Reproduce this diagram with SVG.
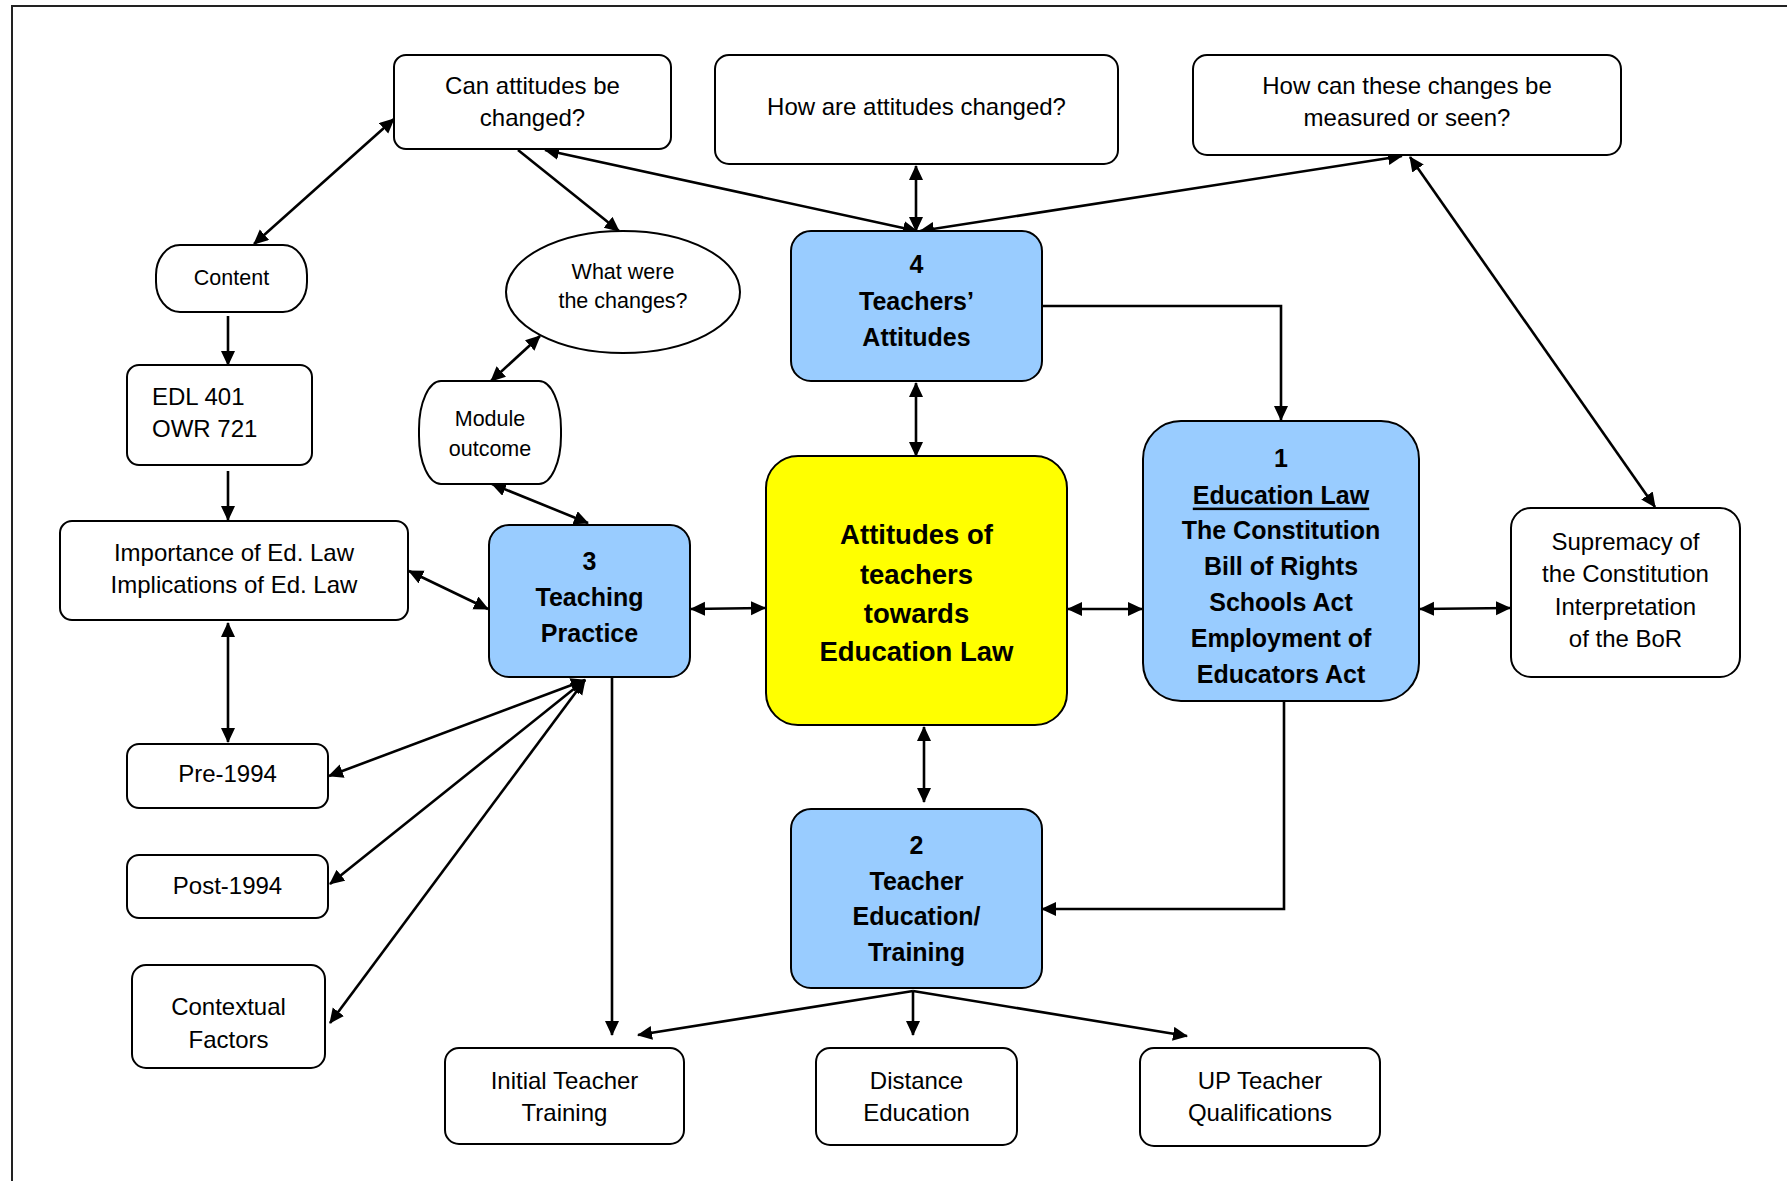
<svg xmlns="http://www.w3.org/2000/svg" width="1787" height="1181" viewBox="0 0 1787 1181">
<style>
.box{fill:#fff;stroke:#000;stroke-width:2}
.blue{fill:#99CCFF;stroke:#000;stroke-width:2}
.yel{fill:#FFFF00;stroke:#000;stroke-width:2}
text{font-family:"Liberation Sans",Arial,sans-serif;fill:#000;dominant-baseline:central;text-anchor:middle}
.t{font-size:24px}
.s{font-size:21.5px}
.b{font-size:25px;font-weight:bold}
.y{font-size:27.5px;font-weight:bold}
.c line,.c path{stroke:#000;stroke-width:2.6;fill:none}
</style>
<defs>
<marker id="ah" markerUnits="userSpaceOnUse" markerWidth="16" markerHeight="15" refX="14" refY="7" orient="auto-start-reverse" viewBox="0 0 16 15">
<path d="M0,0 L15,7 L0,14 z" fill="#000"/>
</marker>
</defs>
<path d="M12,1181 V6 H1787" fill="none" stroke="#222" stroke-width="2"/>

<g class="c">
<line x1="394" y1="119" x2="254" y2="244" marker-start="url(#ah)" marker-end="url(#ah)"/>
<line x1="518" y1="150" x2="619" y2="231" marker-end="url(#ah)"/>
<line x1="545" y1="150" x2="917" y2="231" marker-start="url(#ah)" marker-end="url(#ah)"/>
<line x1="916" y1="166" x2="916" y2="231" marker-start="url(#ah)" marker-end="url(#ah)"/>
<line x1="1402" y1="156" x2="920" y2="231" marker-start="url(#ah)" marker-end="url(#ah)"/>
<line x1="1410" y1="157" x2="1655" y2="507" marker-start="url(#ah)" marker-end="url(#ah)"/>
<path d="M1042,306 H1281 V420" marker-end="url(#ah)"/>
<line x1="916" y1="383" x2="916" y2="456" marker-start="url(#ah)" marker-end="url(#ah)"/>
<line x1="228" y1="316" x2="228" y2="365" marker-end="url(#ah)"/>
<line x1="228" y1="471" x2="228" y2="520" marker-end="url(#ah)"/>
<line x1="540" y1="336" x2="491" y2="381" marker-start="url(#ah)" marker-end="url(#ah)"/>
<line x1="492" y1="484" x2="588" y2="523" marker-start="url(#ah)" marker-end="url(#ah)"/>
<line x1="409" y1="571" x2="488" y2="609" marker-start="url(#ah)" marker-end="url(#ah)"/>
<line x1="228" y1="623" x2="228" y2="742" marker-start="url(#ah)" marker-end="url(#ah)"/>
<line x1="691" y1="609" x2="765" y2="608" marker-start="url(#ah)" marker-end="url(#ah)"/>
<line x1="585" y1="680" x2="329" y2="776" marker-start="url(#ah)" marker-end="url(#ah)"/>
<line x1="585" y1="680" x2="330" y2="884" marker-start="url(#ah)" marker-end="url(#ah)"/>
<line x1="585" y1="680" x2="330" y2="1023" marker-start="url(#ah)" marker-end="url(#ah)"/>
<line x1="612" y1="677" x2="612" y2="1035" marker-end="url(#ah)"/>
<line x1="1068" y1="609" x2="1142" y2="609" marker-start="url(#ah)" marker-end="url(#ah)"/>
<line x1="1420" y1="609" x2="1510" y2="608" marker-start="url(#ah)" marker-end="url(#ah)"/>
<line x1="924" y1="727" x2="924" y2="802" marker-start="url(#ah)" marker-end="url(#ah)"/>
<path d="M1284,701 V909 H1042" marker-end="url(#ah)"/>
<line x1="913" y1="991" x2="638" y2="1035" marker-end="url(#ah)"/>
<line x1="913" y1="991" x2="913" y2="1035" marker-end="url(#ah)"/>
<line x1="913" y1="991" x2="1187" y2="1036" marker-end="url(#ah)"/>
</g>

<g id="can-attitudes">
<rect class="box" x="394" y="55" width="277" height="94" rx="12"/>
<text class="t" x="532.5" y="85.5">Can attitudes be</text>
<text class="t" x="532.5" y="117.4">changed?</text>
</g>
<g id="how-changed">
<rect class="box" x="715" y="55" width="403" height="109" rx="14"/>
<text class="t" x="916.5" y="106">How are attitudes changed?</text>
</g>
<g id="how-measured">
<rect class="box" x="1193" y="55" width="428" height="100" rx="14"/>
<text class="t" x="1407" y="85.5">How can these changes be</text>
<text class="t" x="1407" y="117.4">measured or seen?</text>
</g>
<g id="content">
<rect class="box" x="156" y="245" width="151" height="67" rx="24" ry="30"/>
<text class="s" x="231.5" y="278">Content</text>
</g>
<g id="what-were">
<ellipse class="box" cx="623" cy="292" rx="117" ry="61"/>
<text class="s" x="623" y="272.4">What were</text>
<text class="s" x="623" y="300.9">the changes?</text>
</g>
<g id="edl">
<rect class="box" x="127" y="365" width="185" height="100" rx="12"/>
<text class="t" x="152" y="396.6" style="text-anchor:start">EDL 401</text>
<text class="t" x="152" y="428.5" style="text-anchor:start">OWR 721</text>
</g>
<g id="module">
<rect class="box" x="419" y="381" width="142" height="103" rx="22" ry="48"/>
<text class="s" x="490" y="419.4">Module</text>
<text class="s" x="490" y="449">outcome</text>
</g>
<g id="importance">
<rect class="box" x="60" y="521" width="348" height="99" rx="12"/>
<text class="t" x="234" y="552.8">Importance of Ed. Law</text>
<text class="t" x="234" y="584.7">Implications of Ed. Law</text>
</g>
<g id="teaching-practice">
<rect class="blue" x="489" y="525" width="201" height="152" rx="20"/>
<text class="b" x="589.5" y="560.7">3</text>
<text class="b" x="589.5" y="597.2">Teaching</text>
<text class="b" x="589.5" y="632.5">Practice</text>
</g>
<g id="center">
<rect class="yel" x="766" y="456" width="301" height="269" rx="32"/>
<text class="y" x="916.5" y="534.5">Attitudes of</text>
<text class="y" x="916.5" y="574.4">teachers</text>
<text class="y" x="916.5" y="613.2">towards</text>
<text class="y" x="916.5" y="651.9">Education Law</text>
</g>
<g id="teachers-attitudes">
<rect class="blue" x="791" y="231" width="251" height="150" rx="20"/>
<text class="b" x="916.5" y="264.4">4</text>
<text class="b" x="916.5" y="301">Teachers’</text>
<text class="b" x="916.5" y="337.4">Attitudes</text>
</g>
<g id="education-law">
<rect class="blue" x="1143" y="421" width="276" height="280" rx="38"/>
<text class="b" x="1281" y="458">1</text>
<text class="b" x="1281" y="494.6" text-decoration="underline">Education Law</text>
<text class="b" x="1281" y="530">The Constitution</text>
<text class="b" x="1281" y="566.4">Bill of Rights</text>
<text class="b" x="1281" y="601.8">Schools Act</text>
<text class="b" x="1281" y="638.2">Employment of</text>
<text class="b" x="1281" y="673.6">Educators Act</text>
</g>
<g id="supremacy">
<rect class="box" x="1511" y="508" width="229" height="169" rx="20"/>
<text class="t" x="1625.5" y="541.4">Supremacy of</text>
<text class="t" x="1625.5" y="573.3">the Constitution</text>
<text class="t" x="1625.5" y="606.3">Interpretation</text>
<text class="t" x="1625.5" y="638.2">of the BoR</text>
</g>
<g id="pre-1994">
<rect class="box" x="127" y="744" width="201" height="64" rx="12"/>
<text class="t" x="227.5" y="773.9">Pre-1994</text>
</g>
<g id="post-1994">
<rect class="box" x="127" y="855" width="201" height="63" rx="12"/>
<text class="t" x="227.5" y="885.6">Post-1994</text>
</g>
<g id="contextual">
<rect class="box" x="132" y="965" width="193" height="103" rx="14"/>
<text class="t" x="228.5" y="1006.4">Contextual</text>
<text class="t" x="228.5" y="1039.4">Factors</text>
</g>
<g id="teacher-education">
<rect class="blue" x="791" y="809" width="251" height="179" rx="20"/>
<text class="b" x="916.5" y="844.5">2</text>
<text class="b" x="916.5" y="881">Teacher</text>
<text class="b" x="916.5" y="916.3">Education/</text>
<text class="b" x="916.5" y="951.6">Training</text>
</g>
<g id="initial-teacher-training">
<rect class="box" x="445" y="1048" width="239" height="96" rx="14"/>
<text class="t" x="564.5" y="1080.4">Initial Teacher</text>
<text class="t" x="564.5" y="1112.3">Training</text>
</g>
<g id="distance-education">
<rect class="box" x="816" y="1048" width="201" height="97" rx="14"/>
<text class="t" x="916.5" y="1080.4">Distance</text>
<text class="t" x="916.5" y="1112.3">Education</text>
</g>
<g id="up-teacher">
<rect class="box" x="1140" y="1048" width="240" height="98" rx="14"/>
<text class="t" x="1260" y="1080.4">UP Teacher</text>
<text class="t" x="1260" y="1112.3">Qualifications</text>
</g>
</svg>
